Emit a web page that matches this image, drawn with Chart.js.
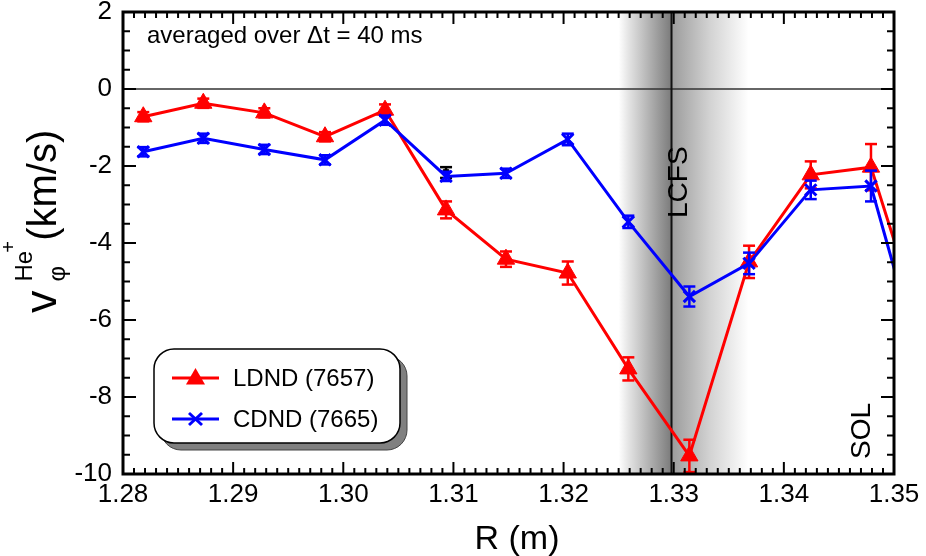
<!DOCTYPE html>
<html>
<head>
<meta charset="utf-8">
<script src="https://cdn.jsdelivr.net/npm/chart.js@4.4.0/dist/chart.umd.min.js"></script>
<style>
  html, body { margin: 0; padding: 0; background: #fff; }
  #wrap { width: 926px; height: 556px; }
</style>
</head>
<body>
<div id="wrap"><canvas id="myChart" width="926" height="556"></canvas></div>
<script>
// radial positions (m) and toroidal He+ velocity (km/s) for both shots
var radius = [1.28184, 1.28729, 1.29283, 1.29834, 1.30379, 1.30933, 1.31477, 1.32038, 1.32588, 1.33142, 1.33684, 1.34244, 1.34791, 1.35340];
var ldnd = [-0.72, -0.37, -0.62, -1.24, -0.55, -3.14, -4.42, -4.78, -7.27, -9.53, -4.49, -2.23, -2.03, -7.0];
var ldndErr = [0.12, 0.12, 0.12, 0.12, 0.15, 0.22, 0.2, 0.3, 0.3, 0.42, 0.42, 0.35, 0.6, 0.3];
var cdnd = [-1.63, -1.28, -1.57, -1.84, -0.81, -2.27, -2.19, -1.31, -3.45, -5.39, -4.53, -2.62, -2.52, -8.1];
var cdndErr = [0.12, 0.12, 0.12, 0.12, 0.12, 0.12, 0.12, 0.15, 0.16, 0.26, 0.28, 0.24, 0.4, 0.3];
var extraR = [1.30933];
var extraV = [-2.17];
var extraErr = [0.14];

var xTicks = [1.28, 1.29, 1.30, 1.31, 1.32, 1.33, 1.34, 1.35];
var yTicks = [2, 0, -2, -4, -6, -8, -10];
var seriesNames = ['LDND (7657)', 'CDND (7665)'];

var lcfsR = 1.3298, shadeFrom = 1.3250, shadeTo = 1.3368;

var FONT = '"Liberation Sans", Arial, sans-serif';

function toPoints(xs, ys) {
  return xs.map(function (x, i) { return { x: x, y: ys[i] }; });
}

function line(ctx, x1, y1, x2, y2) {
  ctx.beginPath(); ctx.moveTo(x1, y1); ctx.lineTo(x2, y2); ctx.stroke();
}

// shaded separatrix band, zero line, LCFS line and labels
var backdrop = {
  id: 'backdrop',
  beforeDatasetsDraw: function (chart) {
    var ctx = chart.ctx, a = chart.chartArea, xs = chart.scales.x, ys = chart.scales.y;
    var x0 = xs.getPixelForValue(shadeFrom), x1 = xs.getPixelForValue(shadeTo), xl = xs.getPixelForValue(lcfsR);
    var f = (xl - x0) / (x1 - x0);
    var g = ctx.createLinearGradient(x0, 0, x1, 0);
    g.addColorStop(0, 'rgba(255,255,255,1)');
    g.addColorStop(0.07, '#e6e6e6');
    g.addColorStop(f - 0.01, '#7e7e7e');
    g.addColorStop(f + 0.005, '#9c9c9c');
    g.addColorStop(0.7, '#d2d2d2');
    g.addColorStop(1, 'rgba(255,255,255,1)');
    ctx.save();
    ctx.fillStyle = g;
    ctx.fillRect(x0, a.top, x1 - x0, a.bottom - a.top);

    ctx.strokeStyle = '#333';
    ctx.lineWidth = 1.5;
    var y0 = ys.getPixelForValue(0);
    line(ctx, a.left, y0, a.right, y0);
    ctx.strokeStyle = '#111';
    ctx.lineWidth = 2;
    line(ctx, xl, a.top, xl, a.bottom);

    ctx.fillStyle = '#000';
    ctx.font = '24px ' + FONT;
    ctx.textBaseline = 'alphabetic';
    ctx.fillText('averaged over \u0394t = 40 ms', 147, 43);

    ctx.font = '28px ' + FONT;
    ctx.save();
    ctx.translate(xl + 15, 218);
    ctx.rotate(-Math.PI / 2);
    ctx.fillText('LCFS', 0, 0);
    ctx.restore();
    ctx.save();
    ctx.translate(870, 459);
    ctx.rotate(-Math.PI / 2);
    ctx.fillText('SOL', 0, 0);
    ctx.restore();
    ctx.restore();
  }
};

// vertical error bars with caps, drawn under each dataset's markers
var errorBars = {
  id: 'errorBars',
  beforeDatasetDraw: function (chart, args) {
    var ds = chart.data.datasets[args.index];
    if (!ds.errors) return;
    var ctx = chart.ctx, ys = chart.scales.y, a = chart.chartArea;
    ctx.save();
    ctx.strokeStyle = ds.errorColor || ds.borderColor;
    ctx.lineWidth = 2.5;
    args.meta.data.forEach(function (pt, i) {
      if (pt.x > a.right) return;
      var v = ds.data[i].y, e = ds.errors[i];
      var yt = ys.getPixelForValue(v + e), yb = ys.getPixelForValue(v - e);
      line(ctx, pt.x, yt, pt.x, yb);
      line(ctx, pt.x - 6, yt, pt.x + 6, yt);
      line(ctx, pt.x - 6, yb, pt.x + 6, yb);
    });
    ctx.restore();
  }
};

// closed frame with inward major/minor ticks on all four sides, plus axis titles
var frame = {
  id: 'frame',
  afterDraw: function (chart) {
    var ctx = chart.ctx, a = chart.chartArea, xs = chart.scales.x, ys = chart.scales.y;
    ctx.save();
    ctx.strokeStyle = '#000';
    ctx.lineWidth = 2;
    var i, p, len;
    for (i = 0; i <= 70; i++) {
      p = xs.getPixelForValue(xTicks[0] + i * 0.001);
      len = i % 10 === 0 ? 12 : 6;
      line(ctx, p, a.bottom, p, a.bottom - len);
      line(ctx, p, a.top, p, a.top + len);
    }
    for (i = 0; i <= 24; i++) {
      p = ys.getPixelForValue(-10 + i * 0.5);
      len = i % 4 === 0 ? 13 : 7;
      line(ctx, a.left, p, a.left + len, p);
      line(ctx, a.right, p, a.right - len, p);
    }
    ctx.lineWidth = 3;
    ctx.strokeRect(a.left, a.top, a.right - a.left, a.bottom - a.top);

    // x title
    ctx.fillStyle = '#000';
    ctx.font = '34px ' + FONT;
    ctx.textAlign = 'center';
    ctx.textBaseline = 'alphabetic';
    ctx.fillText('R (m)', 517, 549);

    // y title: v with subscript phi and superscript He+
    ctx.textAlign = 'left';
    ctx.save();
    ctx.translate(56, 313);
    ctx.rotate(-Math.PI / 2);
    ctx.font = '45px ' + FONT;
    ctx.fillText('v', 0, 0);
    var w = ctx.measureText('v').width + 9;
    ctx.font = '24px ' + FONT;
    ctx.fillText('\u03c6', w, 9);
    ctx.fillText('He', w, -24);
    var he = ctx.measureText('He').width;
    ctx.font = '20px ' + FONT;
    ctx.fillText('+', w + he - 2, -41);
    ctx.font = '40px ' + FONT;
    ctx.fillText('(km/s)', w + he + 10, 0);
    ctx.restore();
    ctx.restore();
  }
};

function drawTriangle(ctx, x, y, r) {
  ctx.beginPath();
  ctx.moveTo(x, y - r);
  ctx.lineTo(x + r * 0.866, y + r / 2);
  ctx.lineTo(x - r * 0.866, y + r / 2);
  ctx.closePath();
  ctx.fill();
}

function roundRect(ctx, x, y, w, h, r) {
  ctx.beginPath();
  ctx.moveTo(x + r, y);
  ctx.arcTo(x + w, y, x + w, y + h, r);
  ctx.arcTo(x + w, y + h, x, y + h, r);
  ctx.arcTo(x, y + h, x, y, r);
  ctx.arcTo(x, y, x + w, y, r);
  ctx.closePath();
}

// boxed legend with drop shadow
var boxLegend = {
  id: 'boxLegend',
  afterDraw: function (chart) {
    var ctx = chart.ctx;
    var bx = 154, by = 349, bw = 246, bh = 94;
    ctx.save();
    roundRect(ctx, bx + 7, by + 7, bw, bh, 20);
    ctx.fillStyle = '#808080';
    ctx.fill();
    ctx.strokeStyle = '#444';
    ctx.lineWidth = 1;
    ctx.stroke();
    roundRect(ctx, bx, by, bw, bh, 20);
    ctx.fillStyle = '#fff';
    ctx.fill();
    ctx.strokeStyle = '#000';
    ctx.lineWidth = 1.5;
    ctx.stroke();

    var rows = [378, 419];
    chart.data.datasets.slice(0, 2).forEach(function (ds, i) {
      var y = rows[i];
      ctx.strokeStyle = ds.borderColor;
      ctx.fillStyle = ds.borderColor;
      ctx.lineWidth = 3;
      line(ctx, 172, y, 219, y);
      if (ds.pointStyle === 'triangle') {
        drawTriangle(ctx, 195.5, y + 1, 11);
      } else {
        line(ctx, 189, y - 6, 202, y + 6);
        line(ctx, 189, y + 6, 202, y - 6);
      }
      ctx.fillStyle = '#000';
      ctx.font = '24px ' + FONT;
      ctx.textBaseline = 'middle';
      ctx.fillText(seriesNames[i], 233, y + 1);
    });
    ctx.restore();
  }
};

Chart.defaults.font.family = FONT;
Chart.defaults.color = '#000';

var ctx = document.getElementById('myChart').getContext('2d');
var myChart = new Chart(ctx, {
  type: 'scatter',
  data: {
    datasets: [{
      label: seriesNames[0],
      data: toPoints(radius, ldnd),
      errors: ldndErr,
      showLine: true,
      borderColor: '#ff0000',
      backgroundColor: '#ff0000',
      borderWidth: 3,
      pointStyle: 'triangle',
      pointRadius: 10,
      pointBorderWidth: 1,
      clip: { left: 20, top: 20, right: 1, bottom: 20 },
      order: 2
    }, {
      label: seriesNames[1],
      data: toPoints(radius, cdnd),
      errors: cdndErr,
      showLine: true,
      borderColor: '#0000ff',
      backgroundColor: '#0000ff',
      borderWidth: 3,
      pointStyle: 'crossRot',
      pointRadius: 8,
      pointBorderWidth: 3,
      clip: { left: 20, top: 20, right: 1, bottom: 20 },
      order: 0
    }, {
      label: 'extra',
      data: toPoints(extraR, extraV),
      errors: extraErr,
      errorColor: '#000',
      showLine: false,
      borderColor: '#000',
      backgroundColor: '#000',
      pointStyle: 'rect',
      pointRadius: 4,
      order: 1
    }]
  },
  options: {
    responsive: false,
    animation: false,
    layout: { padding: { left: 0, right: 32, top: 12, bottom: 0 } },
    plugins: { legend: { display: false }, tooltip: { enabled: false } },
    scales: {
      x: {
        type: 'linear',
        min: 1.28,
        max: 1.35,
        grid: { display: false, drawTicks: false },
        border: { display: false },
        afterBuildTicks: function (s) { s.ticks = xTicks.map(function (v) { return { value: v }; }); },
        afterFit: function (s) { s.height = 82; s.paddingLeft = 0; s.paddingRight = 0; },
        ticks: {
          font: { size: 26, lineHeight: 1 },
          padding: 8,
          maxRotation: 0,
          callback: function (v) { return Number(v).toFixed(2); }
        }
      },
      y: {
        type: 'linear',
        min: -10,
        max: 2,
        grid: { display: false, drawTicks: false },
        border: { display: false },
        afterBuildTicks: function (s) { s.ticks = yTicks.map(function (v) { return { value: v }; }); },
        afterFit: function (s) { s.width = 123; s.paddingTop = 0; s.paddingBottom = 0; },
        ticks: {
          font: { size: 26, lineHeight: 1 },
          padding: 11
        }
      }
    }
  },
  plugins: [backdrop, errorBars, frame, boxLegend]
});
</script>
</body>
</html>
